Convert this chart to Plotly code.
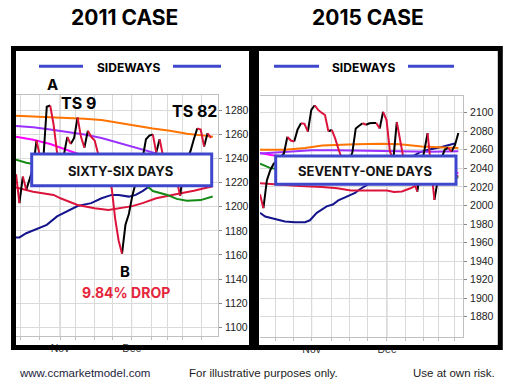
import plotly.graph_objects as go

# ---------------- data ----------------
# 2011 case (left)  x = trading-day index
L_DAYS = list(range(58))
L_PRICE = [1227, 1203, 1225, 1214, 1224, 1232, 1255, 1242, 1240, 1283,
           1284, 1268, 1245, 1238, 1243, 1258, 1252, 1257, 1274, 1258,
           1249, 1263, 1258, 1255, 1244, 1238, 1235, 1224, 1215, 1190,
           1172, 1161, 1185, 1194, 1209, 1220, 1232, 1240, 1256, 1259,
           1260, 1245, 1256, 1242, 1236, 1230, 1225, 1222, 1209, 1232,
           1240, 1246, 1256, 1265, 1264, 1250, 1261, 1257]
L_ORANGE_X = [0, 5, 10, 15, 20, 25, 30, 35, 40, 45, 50, 55, 57.6]
L_ORANGE = [1275.5, 1275, 1274.5, 1273.5, 1273, 1272, 1269.5, 1267, 1265, 1263, 1260.5, 1259, 1258]
L_PURPLE_X = [0, 5, 10, 15, 20, 25, 30, 35, 40, 45, 50, 57.5]
L_PURPLE = [1267, 1266, 1264, 1262, 1260, 1257, 1253, 1249, 1245, 1241, 1237, 1233]
L_MAGENTA_X = [0, 5, 10, 13, 18, 25, 35, 45, 57.5]
L_MAGENTA = [1258, 1255.5, 1252, 1249, 1244, 1238, 1230, 1225, 1222]
L_GREEN_X = [0, 3, 10, 20, 30, 38, 40, 44, 47, 50, 54, 57.5]
L_GREEN = [1239, 1236.5, 1233, 1228, 1222, 1218, 1213, 1210, 1206.5, 1205, 1205.5, 1208.5]
L_RED_X = [0, 3, 5, 11, 13, 18, 23, 27, 30, 34, 37, 41, 46, 52, 57.5]
L_RED = [1216, 1214, 1212.5, 1209.8, 1207, 1201.5, 1198.7, 1197.4, 1198.5, 1200.5, 1203, 1207, 1210, 1213.3, 1217]
L_NAVY_X = [0, 1, 3, 7, 9, 12, 15, 18, 22, 25, 28, 30, 33, 35, 37, 40, 45, 50, 57.5]
L_NAVY = [1174.5, 1174.5, 1178, 1182.7, 1185, 1192, 1196, 1200.6, 1203, 1207, 1209.8, 1209.8,
          1208.4, 1209.8, 1213, 1219, 1225, 1230, 1235]
L_GRID_X = [1.2, 6.8, 12.9, 17.5, 22.9, 28.3, 33.8, 39.7, 44.2, 48.7, 54.3]
L_MONTHS = {12.9: "Nov", 33.8: "Dec"}
L_YTICKS = list(range(1100, 1281, 20))

# 2015 case (right)
R_DAYS = list(range(59))
R_PRICE = [2012, 1997, 2027, 2038, 2045, 2048, 2052, 2056, 2074, 2070,
           2069, 2082, 2088.6, 2088, 2079.6, 2103, 2108, 2103, 2100, 2097.5,
           2080, 2081.4, 2072, 2060, 2050, 2045, 2048, 2057, 2083, 2086,
           2088.6, 2087, 2088.6, 2088.8, 2089, 2083, 2101, 2092, 2058, 2050,
           2090, 2070, 2050, 2040, 2035, 2025, 2015, 2040, 2058, 2078,
           2045, 2006, 2030, 2050, 2060, 2062, 2058, 2065, 2078]
R_ORANGE_X = [0, 7.3, 13.2, 18.2, 27.8, 35.6, 40.9, 47.3, 54, 58]
R_ORANGE = [2060, 2060, 2062, 2064.5, 2066, 2066.5, 2066, 2063.5, 2062.5, 2062]
R_PURPLE_X = [0, 8.3, 15.1, 21.9, 30.7, 40.9, 49.7, 58]
R_PURPLE = [2056, 2058, 2059.5, 2059.5, 2059, 2058, 2058, 2058.5]
R_MAGENTA_X = [0, 3.2, 11.7, 26.3, 40.9, 58]
R_MAGENTA = [2056.5, 2054.5, 2050, 2045, 2040, 2035]
R_GREEN_X = [0, 2.9, 11.7, 26.3, 40.9, 58]
R_GREEN = [2045, 2040.5, 2035, 2030, 2028, 2030]
R_RED_X = [0, 3.5, 11.7, 18.2, 22.6, 26.6, 37.1, 39.2, 41.5, 44, 46.5, 52.6, 58]
R_RED = [2024, 2023, 2021, 2020, 2018.5, 2016, 2016, 2014.5, 2015, 2018.5, 2023, 2028, 2032]
R_NAVY_X = [0, 1.5, 4.4, 7.3, 10.2, 13.2, 14.6, 16.6, 19.5, 21.3, 22.9, 26.3, 27.8, 29.2,
            35, 40.9, 46.8, 49.2, 53.1, 57.2]
R_NAVY = [1992, 1988, 1985.3, 1982.8, 1982, 1982, 1984, 1992, 1999, 2001, 2005.5, 2011.5,
          2013.5, 2017.5, 2030, 2045, 2057.5, 2060, 2063, 2067]
R_GRID_X = [4.4, 9.7, 15.1, 20.8, 26.1, 31.5, 37.1, 42.4, 47.8, 52.2, 57.0]
R_MONTHS = {15.1: "Nov", 37.1: "Dec"}
R_YTICKS = list(range(1880, 2101, 20))

# ---------------- helpers ----------------
W, H = 515, 392
def fx(p):
    return p / W
def fy(p):
    return 1 - p / H

BLUE = "#3f48cc"
PRICE_RED = "#dc143c"
fig = go.Figure()

def add_ma(xs, ys, color, xa, ya, width=2):
    fig.add_trace(go.Scatter(x=xs, y=ys, mode="lines", xaxis=xa, yaxis=ya,
                             line=dict(color=color, width=width), hoverinfo="skip"))

def add_price(xs, ys, xa, ya):
    runs = {"black": ([], []), PRICE_RED: ([], [])}
    cur = None
    for i in range(1, len(ys)):
        col = "black" if ys[i] >= ys[i - 1] else PRICE_RED
        tx, ty = runs[col]
        if col != cur:
            if cur is not None:
                runs[cur][0].append(None)
                runs[cur][1].append(None)
            tx.append(xs[i - 1]); ty.append(ys[i - 1])
        tx.append(xs[i]); ty.append(ys[i])
        cur = col
    for col, (tx, ty) in runs.items():
        fig.add_trace(go.Scatter(x=tx, y=ty, mode="lines", xaxis=xa, yaxis=ya,
                                 line=dict(color=col, width=2), connectgaps=False,
                                 hoverinfo="skip"))

for xa, ya, d in [("x", "y", dict(o=(L_ORANGE_X, L_ORANGE), p=(L_PURPLE_X, L_PURPLE),
                                  m=(L_MAGENTA_X, L_MAGENTA), g=(L_GREEN_X, L_GREEN),
                                  r=(L_RED_X, L_RED), n=(L_NAVY_X, L_NAVY))),
                  ("x2", "y2", dict(o=(R_ORANGE_X, R_ORANGE), p=(R_PURPLE_X, R_PURPLE),
                                    m=(R_MAGENTA_X, R_MAGENTA), g=(R_GREEN_X, R_GREEN),
                                    r=(R_RED_X, R_RED), n=(R_NAVY_X, R_NAVY)))]:
    add_ma(*d["n"], "#14148c", xa, ya)
    add_ma(*d["r"], "#dc143c", xa, ya)
    add_ma(*d["g"], "#138a13", xa, ya)
    add_ma(*d["m"], "#ff00ff", xa, ya)
    add_ma(*d["p"], "#9b30ff", xa, ya)
    add_ma(*d["o"], "#ff7300", xa, ya)

add_price(L_DAYS, L_PRICE, "x", "y")
add_price(R_DAYS, R_PRICE, "x2", "y2")

GRID = "#dadada"
AXLINE = "#c0c0c0"
tickfont = dict(family="Liberation Sans, Arial", size=10.5, color="#222")

def xaxis(dom, rng, grid, months):
    return dict(domain=dom, range=rng, tickvals=grid,
                ticktext=[months.get(g, "") for g in grid],
                showgrid=True, gridcolor=GRID, gridwidth=1, zeroline=False,
                showline=True, linecolor=AXLINE, mirror=True,
                ticks="outside", ticklen=3, tickcolor=AXLINE,
                tickfont=dict(family="Liberation Sans, Arial", size=10.5, color="#333"),
                fixedrange=True)

def yaxis(dom, rng, ticks, anchor):
    return dict(domain=dom, range=rng, tickvals=ticks, side="right", anchor=anchor,
                showgrid=True, gridcolor=GRID, gridwidth=1, zeroline=False,
                showline=True, linecolor=AXLINE, ticks="outside", ticklen=3,
                tickcolor="#888", tickfont=tickfont, ticklabelstandoff=1, fixedrange=True)

fig.update_layout(
    width=W, height=H, margin=dict(l=0, r=0, t=0, b=0),
    paper_bgcolor="white", plot_bgcolor="white", showlegend=False,
    xaxis=dict(xaxis([fx(16), fx(218)], [0, 59.06], L_GRID_X, L_MONTHS), anchor="y"),
    yaxis=yaxis([fy(335.7), fy(95)], [1093, 1292.7], L_YTICKS, "x"),
    xaxis2=dict(xaxis([fx(260), fx(463)], [0, 59.36], R_GRID_X, R_MONTHS), anchor="y2"),
    yaxis2=yaxis([fy(336.7), fy(96)], [1858.5, 2118], R_YTICKS, "x2"),
)

shapes = []
# darker month lines
for xa, ya, months in [("x", "y", L_MONTHS), ("x2", "y2", R_MONTHS)]:
    for m in months:
        shapes.append(dict(type="line", xref=xa, yref=ya + " domain", x0=m, x1=m, y0=0, y1=1,
                           line=dict(color="#b4b4b4", width=1), layer="below"))
# legend lines
for a, b in [(39, 83), (173, 221), (274, 319), (408, 454)]:
    shapes.append(dict(type="line", xref="paper", yref="paper", x0=fx(a), x1=fx(b),
                       y0=fy(66.3), y1=fy(66.3), line=dict(color=BLUE, width=3), layer="above"))
# day-count boxes
for a, b, t, btm in [(31.7, 211.7, 154, 185.7), (275.7, 456, 156, 184.3)]:
    shapes.append(dict(type="rect", xref="paper", yref="paper", x0=fx(a), x1=fx(b),
                       y0=fy(btm), y1=fy(t), fillcolor="white",
                       line=dict(color=BLUE, width=3), layer="above"))
# black frames
for a, b in [(13.5, 251.5), (256.5, 500.3)]:
    shapes.append(dict(type="rect", xref="paper", yref="paper", x0=fx(a), x1=fx(b),
                       y0=fy(347.5), y1=fy(48.5), line=dict(color="black", width=5),
                       layer="above"))
fig.update_layout(shapes=shapes)

HEAD = "Inter, Lato, DejaVu Sans"
def ann(text, x, y, size, color="black", bold=True, family=HEAD, xanchor="center"):
    fig.add_annotation(text=("<b>%s</b>" % text) if bold else text, x=fx(x), y=fy(y),
                       xref="paper", yref="paper", showarrow=False, xanchor=xanchor,
                       yanchor="middle", font=dict(family=family, size=size, color=color))

ann("2011 CASE", 124, 17, 21)
ann("2015 CASE", 368, 17, 21)
ann("SIDEWAYS", 129, 67, 12)
ann("SIDEWAYS", 364, 67, 12)
ann("A", 52, 84.5, 15)
ann("TS 9", 78, 103.5, 16)
ann("TS 82", 194, 111, 16)
ann("B", 124.5, 271.5, 15)
ann("9.84% DROP", 126, 292.5, 14, color="#e5263c")
ann("SIXTY-SIX DAYS", 120, 171, 13, color="#141414")
ann("SEVENTY-ONE DAYS", 365, 170.7, 13, color="#141414")
FOOT = "Liberation Sans, Arial"
ann("www.ccmarketmodel.com", 16.5, 373.3, 11.5, color="#1c1c3c", bold=False, family=FOOT, xanchor="left")
ann("For illustrative purposes only.", 263, 373.3, 11.5, color="#1c1c1c", bold=False, family=FOOT)
ann("Use at own risk.", 497, 373.3, 11.5, color="#1c1c1c", bold=False, family=FOOT, xanchor="right")

fig.write_html("out.html", config={"displayModeBar": False},
               post_script="document.body.style.margin='0';document.body.style.overflow='hidden';")
